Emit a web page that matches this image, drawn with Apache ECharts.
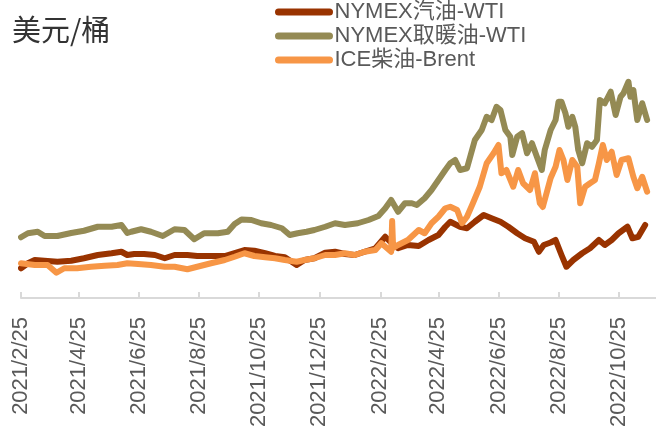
<!DOCTYPE html>
<html>
<head>
<meta charset="utf-8">
<script src="https://cdn.jsdelivr.net/npm/echarts@6/dist/echarts.min.js"></script>
<style>
  html, body { margin: 0; padding: 0; background: #fff; }
  #chart { width: 656px; height: 434px; }
</style>
</head>
<body>
<div id="chart"></div>
<script>
// crack spreads, USD/bbl
var seriesNames = ['NYMEX汽油-WTI', 'NYMEX取暖油-WTI', 'ICE柴油-Brent'];

var tickLabels = ['2021/2/25', '2021/4/25', '2021/6/25', '2021/8/25', '2021/10/25', '2021/12/25',
  '2022/2/25', '2022/4/25', '2022/6/25', '2022/8/25', '2022/10/25'];

var gasData = [
  ['2021-02-25', 11.9], ['2021-03-04', 13.9], ['2021-03-11', 15.2], ['2021-03-24', 14.8], ['2021-04-03', 14.5],
  ['2021-04-17', 14.9], ['2021-04-30', 15.9], ['2021-05-14', 17.2], ['2021-05-28', 17.9], ['2021-06-07', 18.5],
  ['2021-06-13', 17.2], ['2021-06-20', 17.6], ['2021-06-30', 17.6], ['2021-07-11', 17.2], ['2021-07-21', 15.9],
  ['2021-07-31', 17.2], ['2021-08-13', 17.2], ['2021-08-23', 16.8], ['2021-09-06', 16.8], ['2021-09-20', 16.8],
  ['2021-09-30', 18.0], ['2021-10-10', 19.2], ['2021-10-20', 18.9], ['2021-10-31', 17.9], ['2021-11-10', 16.8],
  ['2021-11-20', 16.3], ['2021-12-02', 13.2], ['2021-12-10', 15.2], ['2021-12-20', 15.9], ['2021-12-31', 18.1],
  ['2022-01-10', 18.5], ['2022-01-20', 17.6], ['2022-01-30', 17.2], ['2022-02-09', 18.5], ['2022-02-20', 19.9],
  ['2022-03-02', 24.5], ['2022-03-07', 22.5], ['2022-03-15', 19.9], ['2022-03-25', 21.2], ['2022-04-05', 20.8],
  ['2022-04-15', 23.2], ['2022-04-25', 25.2], ['2022-05-02', 28.5], ['2022-05-07', 30.5], ['2022-05-17', 28.5],
  ['2022-05-24', 27.9], ['2022-06-01', 30.5], ['2022-06-10', 33.2], ['2022-06-18', 31.9], ['2022-06-27', 30.5],
  ['2022-07-05', 28.5], ['2022-07-14', 25.9], ['2022-07-22', 23.9], ['2022-07-31', 22.5], ['2022-08-05', 18.5],
  ['2022-08-10', 21.2], ['2022-08-17', 22.2], ['2022-08-22', 23.2], ['2022-08-28', 17.2], ['2022-09-02', 12.5],
  ['2022-09-09', 15.2], ['2022-09-18', 17.9], ['2022-09-26', 19.9], ['2022-10-05', 23.2], ['2022-10-11', 21.2],
  ['2022-10-18', 23.2], ['2022-10-25', 25.9], ['2022-11-03', 28.5], ['2022-11-08', 23.9], ['2022-11-14', 24.5],
  ['2022-11-21', 29.2]
];

var hoData = [
  ['2021-02-25', 24.3], ['2021-03-04', 25.9], ['2021-03-14', 26.5], ['2021-03-21', 24.8], ['2021-04-03', 24.8],
  ['2021-04-17', 26.0], ['2021-04-30', 26.9], ['2021-05-14', 28.5], ['2021-05-28', 28.5], ['2021-06-07', 29.2],
  ['2021-06-13', 26.0], ['2021-06-17', 26.5], ['2021-06-27', 27.5], ['2021-07-07', 26.5], ['2021-07-19', 24.8],
  ['2021-07-31', 27.5], ['2021-08-10', 27.2], ['2021-08-20', 23.5], ['2021-08-30', 25.9], ['2021-09-13', 25.9],
  ['2021-09-23', 26.5], ['2021-09-30', 29.6], ['2021-10-07', 31.4], ['2021-10-17', 31.2], ['2021-10-27', 29.9],
  ['2021-11-06', 29.2], ['2021-11-17', 27.9], ['2021-11-25', 25.2], ['2021-12-03', 25.9], ['2021-12-12', 26.5],
  ['2021-12-20', 27.2], ['2021-12-31', 28.5], ['2022-01-10', 29.9], ['2022-01-20', 29.2], ['2022-02-02', 29.9],
  ['2022-02-13', 31.2], ['2022-02-23', 32.8], ['2022-03-02', 35.9], ['2022-03-08', 39.2], ['2022-03-15', 34.5],
  ['2022-03-22', 37.9], ['2022-03-29', 37.9], ['2022-04-03', 37.2], ['2022-04-11', 39.9], ['2022-04-18', 43.2],
  ['2022-04-25', 47.2], ['2022-05-02', 51.2], ['2022-05-07', 53.9], ['2022-05-12', 55.2], ['2022-05-17', 51.2],
  ['2022-05-24', 51.9], ['2022-06-01', 63.2], ['2022-06-08', 67.2], ['2022-06-13', 72.5], ['2022-06-18', 71.2],
  ['2022-06-23', 76.5], ['2022-06-27', 75.2], ['2022-07-02', 67.2], ['2022-07-07', 64.5], ['2022-07-09', 57.2],
  ['2022-07-14', 64.5], ['2022-07-19', 65.9], ['2022-07-24', 57.9], ['2022-07-29', 61.9], ['2022-08-03', 56.5],
  ['2022-08-08', 51.2], ['2022-08-11', 59.2], ['2022-08-17', 67.2], ['2022-08-22', 71.2], ['2022-08-25', 78.5],
  ['2022-08-28', 78.5], ['2022-09-01', 73.9], ['2022-09-04', 68.5], ['2022-09-08', 72.5], ['2022-09-11', 68.5],
  ['2022-09-14', 59.2], ['2022-09-18', 53.9], ['2022-09-23', 61.9], ['2022-09-28', 60.5], ['2022-10-03', 63.2],
  ['2022-10-06', 79.2], ['2022-10-11', 77.9], ['2022-10-17', 82.5], ['2022-10-22', 73.2], ['2022-10-27', 80.5],
  ['2022-10-30', 81.9], ['2022-11-04', 86.5], ['2022-11-06', 80.5], ['2022-11-09', 83.2], ['2022-11-13', 71.2],
  ['2022-11-18', 77.9], ['2022-11-23', 71.2]
];

var iceData = [
  ['2021-02-25', 13.9], ['2021-03-11', 13.2], ['2021-03-24', 13.2], ['2021-04-02', 10.1], ['2021-04-10', 11.9],
  ['2021-04-23', 11.9], ['2021-05-07', 12.5], ['2021-05-21', 12.9], ['2021-06-03', 13.2], ['2021-06-13', 13.9],
  ['2021-06-24', 13.6], ['2021-07-07', 13.2], ['2021-07-21', 12.5], ['2021-07-31', 12.5], ['2021-08-13', 11.5],
  ['2021-08-23', 12.5], ['2021-09-06', 13.9], ['2021-09-20', 15.2], ['2021-09-30', 16.5], ['2021-10-10', 17.9],
  ['2021-10-20', 16.8], ['2021-10-31', 16.3], ['2021-11-10', 15.9], ['2021-11-20', 15.2], ['2021-12-02', 14.5],
  ['2021-12-10', 15.2], ['2021-12-20', 15.9], ['2021-12-31', 17.2], ['2022-01-10', 17.2], ['2022-01-20', 17.9],
  ['2022-01-30', 17.2], ['2022-02-09', 18.5], ['2022-02-20', 19.2], ['2022-02-26', 21.9], ['2022-03-08', 18.5],
  ['2022-03-09', 30.8], ['2022-03-10', 20.0], ['2022-03-15', 21.2], ['2022-03-25', 23.2], ['2022-04-05', 27.2],
  ['2022-04-11', 25.9], ['2022-04-18', 29.9], ['2022-04-25', 32.5], ['2022-05-02', 35.9], ['2022-05-07', 36.5],
  ['2022-05-14', 35.2], ['2022-05-19', 29.9], ['2022-05-24', 32.5], ['2022-05-30', 37.9], ['2022-06-06', 44.5],
  ['2022-06-13', 53.9], ['2022-06-20', 57.9], ['2022-06-25', 61.2], ['2022-06-28', 49.9], ['2022-07-03', 51.2],
  ['2022-07-10', 44.5], ['2022-07-15', 51.2], ['2022-07-20', 45.9], ['2022-07-27', 43.2], ['2022-08-01', 49.9],
  ['2022-08-06', 37.9], ['2022-08-09', 36.4], ['2022-08-17', 48.0], ['2022-08-22', 52.5], ['2022-08-26', 59.2],
  ['2022-08-30', 55.2], ['2022-09-03', 47.2], ['2022-09-08', 55.2], ['2022-09-13', 52.5], ['2022-09-16', 37.9],
  ['2022-09-21', 44.5], ['2022-09-26', 45.9], ['2022-10-01', 47.2], ['2022-10-05', 53.9], ['2022-10-09', 61.2],
  ['2022-10-13', 55.2], ['2022-10-18', 58.5], ['2022-10-23', 49.2], ['2022-10-28', 55.2], ['2022-11-04', 55.9],
  ['2022-11-09', 48.5], ['2022-11-13', 43.9], ['2022-11-18', 48.5], ['2022-11-23', 42.5]
];

var colors = ['#993300', '#948A54', '#F79646'];
var latinFont = '"Liberation Sans", "Noto Sans CJK SC", sans-serif';

// local-time timestamp from 'YYYY-MM-DD' or 'YYYY/M/D'
function toTime(s) {
  var p = s.split(/[-\/]/);
  return new Date(+p[0], +p[1] - 1, +p[2]).getTime();
}

function toPoints(data) {
  return data.map(function (p) { return [toTime(p[0]), p[1]]; });
}

var tickValues = tickLabels.map(toTime);

var chart = echarts.init(document.getElementById('chart'));

function lineSeries(name, data, color) {
  return {
    name: name,
    type: 'line',
    data: toPoints(data),
    symbol: 'none',
    lineStyle: { color: color, width: 6, cap: 'round', join: 'round' },
    itemStyle: { color: color }
  };
}

chart.setOption({
  animation: false,
  color: colors,
  title: {
    text: '美元/桶',
    left: 12,
    top: 15,
    padding: 0,
    textStyle: {
      fontFamily: '"Noto Sans CJK SC", sans-serif',
      fontSize: 29,
      fontWeight: 'normal',
      color: '#333333'
    }
  },
  legend: {
    orient: 'vertical',
    left: 275,
    top: 0,
    padding: 0,
    itemWidth: 51,
    itemHeight: 7,
    itemGap: 0,
    lineStyle: { width: 7, cap: 'round' },
    textStyle: {
      fontFamily: latinFont,
      fontSize: 22,
      lineHeight: 24,
      color: '#595959'
    },
    data: seriesNames
  },
  grid: { left: 21, right: 0, top: 48, bottom: 136 },
  xAxis: {
    type: 'value',
    min: toTime('2021-02-25'),
    max: toTime('2022-12-02'),
    axisLine: { lineStyle: { color: '#D9D9D9', width: 2 } },
    axisTick: {
      show: true,
      inside: true,
      length: 6,
      customValues: tickValues,
      lineStyle: { color: '#D9D9D9', width: 2 }
    },
    axisLabel: {
      customValues: tickValues,
      rotate: 90,
      margin: 19,
      fontFamily: latinFont,
      fontSize: 22,
      color: '#595959',
      formatter: function (v) {
        var d = new Date(v);
        return d.getFullYear() + '/' + (d.getMonth() + 1) + '/' + d.getDate();
      }
    },
    splitLine: { show: false }
  },
  yAxis: {
    type: 'value',
    min: 0,
    max: 100,
    show: false
  },
  series: [
    lineSeries(seriesNames[0], gasData, colors[0]),
    lineSeries(seriesNames[1], hoData, colors[1]),
    lineSeries(seriesNames[2], iceData, colors[2])
  ]
});
</script>
</body>
</html>
